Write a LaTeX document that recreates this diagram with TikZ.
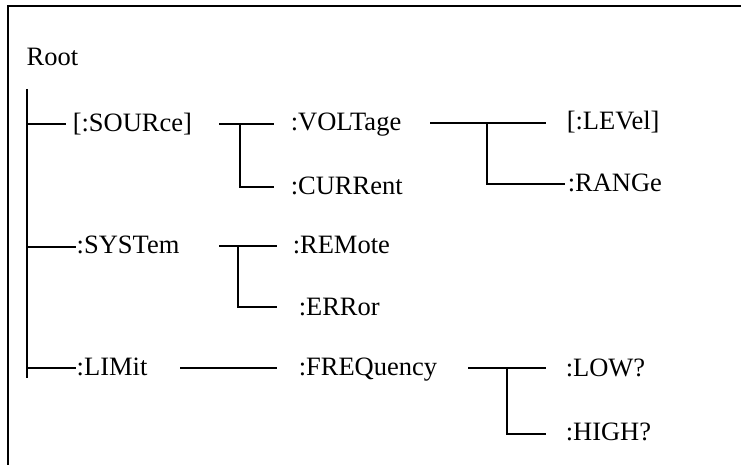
\documentclass[tikz,border=0pt]{standalone}
\usepackage{fontspec}
\setmainfont{Liberation Serif}
\usetikzlibrary{positioning}
\tikzset{cmd/.style={anchor=base west,inner sep=0pt,font=\fontsize{13.25}{16}\selectfont}}

\begin{document}
\begin{tikzpicture}[x=.5pt,y=-.5pt,line width=.75pt]
\useasboundingbox (0,0) rectangle (741,465);
\draw[line width=1pt] (8,465) -- (8,6.5) -- (741,6.5);
\node[cmd] (root) at (26,66) {Root};
\node[cmd] (src) at (72,132) {[:SOURce]};
\node[cmd] (volt) at (290,131) {:VOLTage};
\node[cmd] (curr) at (290,195) {:CURRent};
\node[cmd] (lev) at (566,130) {[:LEVel]};
\node[cmd] (rng) at (567,192) {:RANGe};
\node[cmd] (sys) at (76,254) {:SYSTem};
\node[cmd] (rem) at (292,254) {:REMote};
\node[cmd] (err) at (298,316) {:ERRor};
\node[cmd] (lim) at (76,376) {:LIMit};
\node[cmd] (freq) at (298,376) {:FREQuency};
\node[cmd] (low) at (565,377) {:LOW?};
\node[cmd] (high) at (565,441) {:HIGH?};
\coordinate (trunk) at (27,89);
\coordinate (trunkend) at (27,378);
\draw (trunk) -- (trunkend);
\coordinate (s0) at (27,124);
\coordinate (s1) at (66,124);
\draw (s0) -- (s1);
\coordinate (y0) at (27,247);
\coordinate (y1) at (76,247);
\draw (y0) -- (y1);
\coordinate (l0) at (27,368);
\coordinate (l1) at (76,368);
\draw (l0) -- (l1);
\coordinate (sa) at (219,124);
\coordinate (sb) at (274,124);
\coordinate (sj) at (240,124);
\coordinate (sc) at (274,187);
\draw (sa) -- (sb);
\draw (sj) |- (sc);
\coordinate (va) at (430,123);
\coordinate (vb) at (546,123);
\coordinate (vj) at (487,123);
\coordinate (vc) at (565,184);
\draw (va) -- (vb);
\draw (vj) |- (vc);
\coordinate (ya) at (219,246);
\coordinate (yb) at (277,246);
\coordinate (yj) at (238,246);
\coordinate (yc) at (277,307);
\draw (ya) -- (yb);
\draw (yj) |- (yc);
\coordinate (la) at (180,368);
\coordinate (lb) at (277,368);
\draw (la) -- (lb);
\coordinate (fa) at (468,368);
\coordinate (fb) at (546,368);
\coordinate (fj) at (507,368);
\coordinate (fc) at (546,434);
\draw (fa) -- (fb);
\draw (fj) |- (fc);
\end{tikzpicture}
\end{document}
